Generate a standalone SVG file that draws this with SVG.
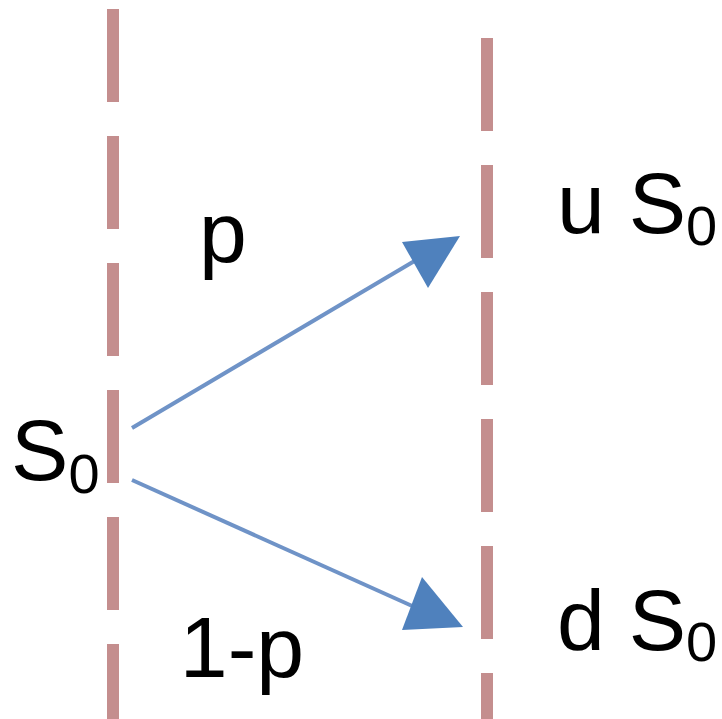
<svg xmlns="http://www.w3.org/2000/svg" width="722" height="719" viewBox="0 0 722 719">
<defs>
<style>
.dash{stroke:#c48e8e;stroke-width:12;fill:none;stroke-dasharray:93 34}
.t{font-family:"Liberation Sans",Arial,sans-serif;font-size:86px;fill:#000}
.s{font-size:56px}
.conn{stroke:#6f93c7;stroke-width:4;fill:none}
</style>
<marker id="ah" viewBox="0 0 10 10" refX="10" refY="5" markerWidth="14" markerHeight="14" markerUnits="userSpaceOnUse" orient="auto">
<path d="M0,0 L10,5 L0,10 Z" fill="#4f81bd"/>
</marker>
</defs>
<rect width="722" height="719" fill="#fff"/>
<g id="timelines">
<line class="dash" x1="113" y1="9" x2="113" y2="719"/>
<line class="dash" x1="487" y1="38" x2="487" y2="719"/>
</g>
<g id="connectors">
<line class="conn" x1="132" y1="428" x2="428" y2="253"/>
<polygon points="460,236 402,242 428,288" fill="#4f81bd"/>
<line class="conn" x1="132" y1="480" x2="430" y2="614"/>
<polygon points="463,627 422,577 402,630" fill="#4f81bd"/>
</g>
<g id="node-s0"><text class="t" x="11" y="480">S<tspan class="s" y="493">0</tspan></text></g>
<g id="node-us0"><text class="t" x="557" y="233">u S<tspan class="s" y="245">0</tspan></text></g>
<g id="node-ds0"><text class="t" x="557" y="650">d S<tspan class="s" y="661">0</tspan></text></g>
<g id="label-p"><text class="t" x="199" y="262">p</text></g>
<g id="label-1p"><text class="t" x="242" y="677" text-anchor="middle">1-p</text></g>
</svg>
